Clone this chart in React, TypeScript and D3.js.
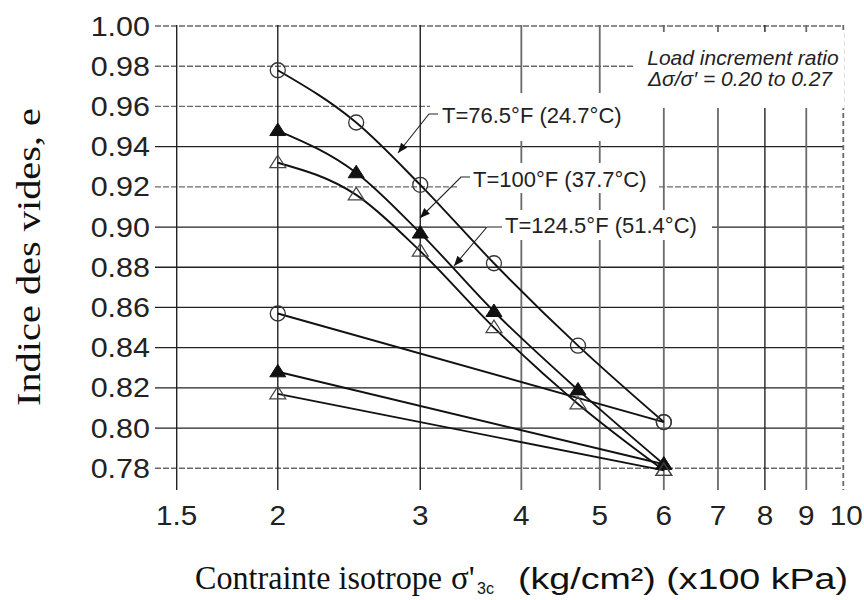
import React from 'react';
import * as d3 from 'd3';

// ---- data ----
const xTicks = [1.5, 2, 3, 4, 5, 6, 7, 8, 9, 10];
const xTickLabels = ['1.5', '2', '3', '4', '5', '6', '7', '8', '9', '10'];
const yTicks = [0.78, 0.8, 0.82, 0.84, 0.86, 0.88, 0.9, 0.92, 0.94, 0.96, 0.98, 1.0];

const loadStress = [2, 2.5, 3, 3.7, 4.7, 6];
const eT765 = [0.978, 0.952, 0.921, 0.882, 0.841, 0.803];
const eT100 = [0.948, 0.927, 0.897, 0.858, 0.819, 0.782];
const eT1245 = [0.932, 0.916, 0.888, 0.85, 0.812, 0.779];

const secondStress = [2, 6];
const e2T765 = [0.857, 0.803];
const e2T100 = [0.828, 0.782];
const e2T1245 = [0.817, 0.779];

const seriesLabels = ['T=76.5°F (24.7°C)', 'T=100°F (37.7°C)', 'T=124.5°F (51.4°C)'];

const W = 864;
const H = 600;

const x = d3.scaleLog().domain([1.5, 10]).range([176.7, 843.3]);
const y = d3.scaleLinear().domain([0.78, 1.0]).range([468.3, 26]);

const SANS = "Arial, 'Liberation Sans', sans-serif";
const SERIF = "'Times New Roman', 'Liberation Serif', serif";

type Marker = 'circle' | 'filled' | 'open';

const triPath = 'M0,-7.5L8,5L-8,5Z';

function Mark({ cx, cy, kind }: { cx: number; cy: number; kind: Marker }) {
  if (kind === 'circle')
    return <circle cx={cx} cy={cy} r={7.5} fill="none" stroke="#333" strokeWidth={1.3} />;
  if (kind === 'filled')
    return <path d={triPath} transform={`translate(${cx},${cy})`} fill="#111" stroke="#111" strokeWidth={1} />;
  return <path d={triPath} transform={`translate(${cx},${cy})`} fill="none" stroke="#444" strokeWidth={1.2} />;
}

export default function App() {
  const line = d3
    .line<[number, number]>()
    .x((d) => x(d[0]))
    .y((d) => y(d[1]))
    .curve(d3.curveMonotoneX);
  const straight = d3
    .line<[number, number]>()
    .x((d) => x(d[0]))
    .y((d) => y(d[1]));

  const loadSeries: { e: number[]; kind: Marker }[] = [
    { e: eT765, kind: 'circle' },
    { e: eT100, kind: 'filled' },
    { e: eT1245, kind: 'open' },
  ];
  const secondSeries: { e: number[]; kind: Marker }[] = [
    { e: e2T765, kind: 'circle' },
    { e: e2T100, kind: 'filled' },
    { e: e2T1245, kind: 'open' },
  ];

  const darkH = new Set([0.94, 0.9, 0.88, 0.86, 0.84, 0.82, 0.8]);
  const darkV = new Set([1.5, 2, 3, 8]);

  const gx0 = 155;
  const gx1 = x(10);
  const gy0 = 25;
  const gy1 = 490;

  // label annotation layout (pixel)
  const labels = [
    { text: seriesLabels[0], tx: 442, ty: 123, bg: [430, 93, 203, 48], leader: 'M438,114L429,114L398,153' },
    { text: seriesLabels[1], tx: 473, ty: 187, bg: [459, 163, 198, 30], leader: 'M470,177L461,177L420,218' },
    { text: seriesLabels[2], tx: 505, ty: 233, bg: [486, 210, 226, 30], leader: 'M502,227L487,227L454,266' },
  ];

  return (
    <svg
      width={W}
      height={H}
      viewBox={`0 0 ${W} ${H}`}
      style={{ position: 'absolute', left: 0, top: 0, background: '#fff' }}
    >
      <defs>
        <marker id="arr" viewBox="0 0 10 8" refX="10" refY="4" markerWidth="11" markerHeight="8" markerUnits="userSpaceOnUse" orient="auto">
          <path d="M0,0L10,4L0,8Z" fill="#111" />
        </marker>
      </defs>
      <rect x={0} y={0} width={W} height={H} fill="#fff" />

      {/* horizontal grid */}
      {yTicks.map((t) => (
        <line
          key={'h' + t}
          x1={gx0}
          x2={gx1}
          y1={y(t)}
          y2={y(t)}
          stroke={darkH.has(+t.toFixed(2)) ? '#222' : '#6a6a6a'}
          strokeWidth={darkH.has(+t.toFixed(2)) ? 1.3 : 1.4}
          strokeDasharray={darkH.has(+t.toFixed(2)) ? undefined : '6,2'}
        />
      ))}
      {/* vertical grid */}
      {xTicks.map((t) => (
        <line
          key={'v' + t}
          x1={x(t)}
          x2={x(t)}
          y1={gy0}
          y2={gy1}
          stroke={darkV.has(t) ? '#222' : '#6a6a6a'}
          strokeWidth={darkV.has(t) ? 1.4 : 1.8}
          strokeDasharray={t === 10 ? '5,3' : undefined}
        />
      ))}

      {/* white backgrounds of annotations */}
      <rect x={633} y={32} width={211} height={76} fill="#fff" />
      {labels.map((l, i) => (
        <rect key={'bg' + i} x={l.bg[0]} y={l.bg[1]} width={l.bg[2]} height={l.bg[3]} fill="#fff" />
      ))}

      {/* y tick labels */}
      {yTicks.map((t) => (
        <text
          key={'yl' + t}
          transform={`translate(150,${y(t) + 9.5}) scale(1.13,1)`}
          textAnchor="end"
          fontFamily={SANS}
          fontSize={27}
          fill="#222"
        >
          {t.toFixed(2)}
        </text>
      ))}
      {/* x tick labels */}
      {xTicks.map((t, i) => (
        <text
          key={'xl' + t}
          transform={`translate(${x(t) + (t === 10 ? 3 : 0)},525) scale(1.1,1)`}
          textAnchor="middle"
          fontFamily={SANS}
          fontSize={27}
          fill="#222"
        >
          {xTickLabels[i]}
        </text>
      ))}

      {/* data lines */}
      {loadSeries.map((s, i) => (
        <path
          key={'ls' + i}
          d={line(loadStress.map((v, j) => [v, s.e[j]] as [number, number])) || ''}
          fill="none"
          stroke="#111"
          strokeWidth={1.9}
        />
      ))}
      {secondSeries.map((s, i) => (
        <path
          key={'ss' + i}
          d={straight(secondStress.map((v, j) => [v, s.e[j]] as [number, number])) || ''}
          fill="none"
          stroke="#111"
          strokeWidth={1.9}
        />
      ))}
      {/* markers */}
      {loadSeries.map((s, i) =>
        loadStress.map((v, j) => <Mark key={`m${i}-${j}`} cx={x(v)} cy={y(s.e[j])} kind={s.kind} />)
      )}
      {secondSeries.map((s, i) =>
        secondStress.map((v, j) => <Mark key={`n${i}-${j}`} cx={x(v)} cy={y(s.e[j])} kind={s.kind} />)
      )}

      {/* series labels with leaders */}
      {labels.map((l, i) => (
        <g key={'lab' + i}>
          <path d={l.leader} fill="none" stroke="#222" strokeWidth={1.1} markerEnd="url(#arr)" />
          <text x={l.tx} y={l.ty} fontFamily={SANS} fontSize={22} fill="#222">
            {l.text}
          </text>
        </g>
      ))}

      {/* load increment annotation */}
      <text x={743} y={65} textAnchor="middle" fontFamily={SANS} fontStyle="italic" fontSize={21} fill="#222">
        Load increment ratio
      </text>
      <text x={740} y={86} textAnchor="middle" fontFamily={SANS} fontStyle="italic" fontSize={21} fill="#222">
        Δσ/σ′ = 0.20 to 0.27
      </text>

      {/* y axis title */}
      <text
        transform="translate(40,257) rotate(-90)"
        textAnchor="middle"
        fontFamily={SERIF}
        fontSize={33}
        textLength={298}
        lengthAdjust="spacingAndGlyphs"
        fill="#111"
      >
        Indice des vides, e
      </text>

      {/* x axis title */}
      <text y={589} fill="#111">
        <tspan x={195} fontFamily={SERIF} fontSize={33} textLength={247} lengthAdjust="spacingAndGlyphs">
          Contrainte isotrope
        </tspan>
        <tspan x={451} fontFamily={SERIF} fontSize={33}>
          σ'
        </tspan>
        <tspan x={477} y={594} fontFamily={SANS} fontSize={16}>
          3c
        </tspan>
        <tspan x={518} y={589} fontFamily={SANS} fontSize={30} textLength={330} lengthAdjust="spacingAndGlyphs">
          (kg/cm²) (x100 kPa)
        </tspan>
      </text>
    </svg>
  );
}
